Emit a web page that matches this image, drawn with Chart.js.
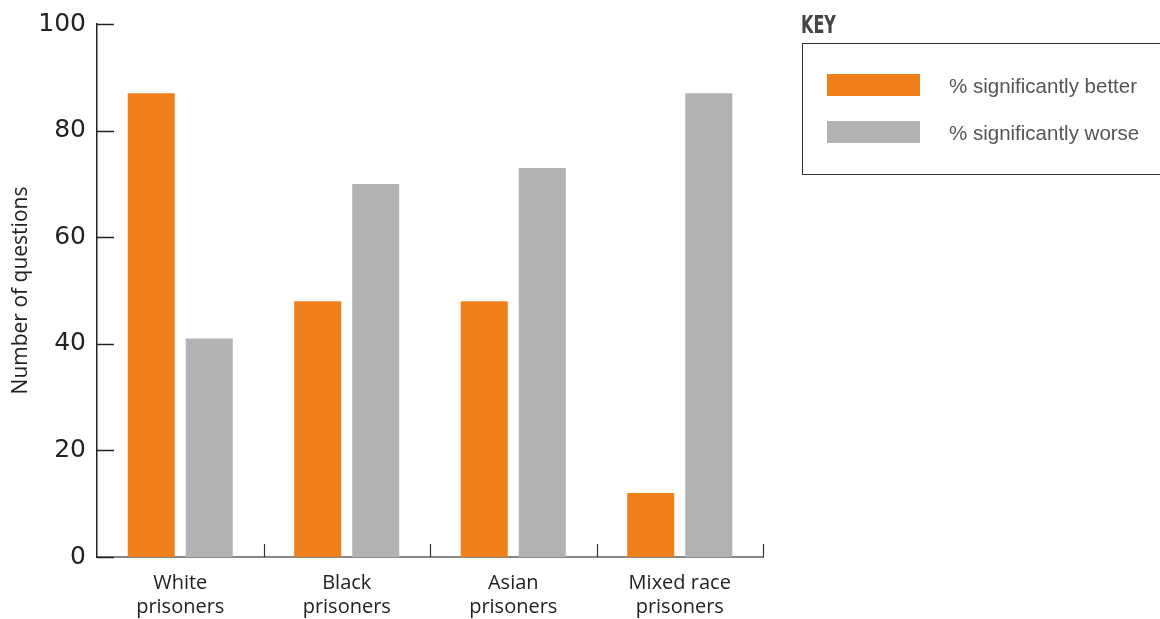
<!DOCTYPE html>
<html>
<head>
<meta charset="utf-8">
<script src="https://cdn.jsdelivr.net/npm/chart.js@4"></script>
<style>
  html, body { margin: 0; padding: 0; background: #fff; }
  #wrap { position: relative; width: 1160px; height: 619px; overflow: hidden; }
  #c { position: absolute; left: 0; top: 0; }
  #keyTitle { position: absolute; left: 801px; top: 13px; font-family: "DejaVu Sans Condensed", "DejaVu Sans"; font-stretch: condensed; font-weight: bold; font-size: 24px; line-height: 24px; color: #444; transform: scaleX(0.74); transform-origin: left top; white-space: nowrap; }
  #keyBox { position: absolute; left: 802px; top: 43px; width: 370px; height: 132px; border: 1.5px solid #333; box-sizing: border-box; }
  .item { position: absolute; left: 24px; height: 22px; }
  .sw { position: absolute; left: 0; top: 0; width: 93px; height: 22px; }
  .lbl { position: absolute; left: 122px; top: 0px; white-space: nowrap; font-family: "Liberation Sans", Arial, sans-serif; font-size: 20.5px; line-height: 24px; color: #555; }
</style>
</head>
<body>
<div id="wrap">
  <canvas id="c" width="1160" height="619"></canvas>
  <div id="keyTitle">KEY</div>
  <div id="keyBox"></div>
</div>
<script>
const categories = [["White", "prisoners"], ["Black", "prisoners"], ["Asian", "prisoners"], ["Mixed race", "prisoners"]];
const seriesNames = ["% significantly better", "% significantly worse"];
const betterValues = [87, 48, 48, 12];
const worseValues = [41, 70, 73, 87];
const yTicks = [0, 20, 40, 60, 80, 100];
const colors = ["#EE7F1A", "#B1B2B4"];

const tickPlugin = {
  id: 'innerTicks',
  afterDraw(chart) {
    const ctx = chart.ctx;
    const y = chart.scales.y, x = chart.scales.x;
    const left = chart.chartArea.left, bottom = chart.chartArea.bottom;
    ctx.save();
    ctx.strokeStyle = '#222';
    ctx.lineWidth = 1.5;
    yTicks.forEach(v => {
      const py = Math.round(y.getPixelForValue(v)) + 0.5;
      ctx.beginPath();
      ctx.moveTo(left, py);
      ctx.lineTo(left + 17, py);
      ctx.stroke();
    });
    ctx.strokeStyle = '#333';
    ctx.lineWidth = 1.2;
    const step = x.getPixelForValue(1) - x.getPixelForValue(0);
    for (let i = 0; i < categories.length; i++) {
      const px = Math.round(x.getPixelForValue(i) + step / 2) + 0.5;
      ctx.beginPath();
      ctx.moveTo(px, bottom);
      ctx.lineTo(px, bottom - 13);
      ctx.stroke();
    }
    ctx.restore();
  }
};

const bgPlugin = {
  id: 'bg',
  beforeDraw(chart) {
    const ctx = chart.ctx;
    ctx.save();
    ctx.fillStyle = '#fff';
    ctx.fillRect(0, 0, chart.width, chart.height);
    ctx.restore();
  }
};

const chart = new Chart(document.getElementById('c'), {
  type: 'bar',
  data: {
    labels: categories,
    datasets: [
      { label: seriesNames[0], data: betterValues, backgroundColor: colors[0], categoryPercentage: 0.697, barPercentage: 0.81 },
      { label: seriesNames[1], data: worseValues, backgroundColor: colors[1], categoryPercentage: 0.697, barPercentage: 0.81 }
    ]
  },
  options: {
    responsive: false,
    animation: false,
    layout: { padding: { top: 24, right: 397, left: 0, bottom: 0 } },
    plugins: { legend: { display: false }, tooltip: { enabled: false } },
    scales: {
      x: {
        grid: { display: false, drawTicks: false },
        border: { display: true, color: '#888', width: 2 },
        ticks: { padding: 14, color: '#222', font: { family: "'Open Sans', sans-serif", size: 20, lineHeight: 1.2 }, maxRotation: 0 },
        afterFit(s) { s.height = 62; }
      },
      y: {
        min: 0, max: 100,
        afterBuildTicks(s) { s.ticks = yTicks.map(v => ({ value: v })); },
        grid: { display: false, drawTicks: false },
        border: { display: true, color: '#222', width: 1.5 },
        ticks: { padding: 11, color: '#222', font: { family: "'DejaVu Sans', sans-serif", size: 25, lineHeight: 0.8 } },
        title: { display: true, text: 'Number of questions', color: '#222', font: { family: "'Open Sans', sans-serif", size: 21 }, padding: { top: 8, bottom: 0 } },
        afterFit(s) { s.width = 97; }
      }
    }
  },
  plugins: [bgPlugin, tickPlugin]
});

const box = document.getElementById('keyBox');
chart.data.datasets.forEach((ds, i) => {
  const it = document.createElement('div');
  it.className = 'item';
  it.style.top = (30 + i * 47) + 'px';
  const sw = document.createElement('div');
  sw.className = 'sw';
  sw.style.background = ds.backgroundColor;
  const lb = document.createElement('div');
  lb.className = 'lbl';
  lb.textContent = ds.label;
  it.appendChild(sw); it.appendChild(lb);
  box.appendChild(it);
});
</script>
</body>
</html>
